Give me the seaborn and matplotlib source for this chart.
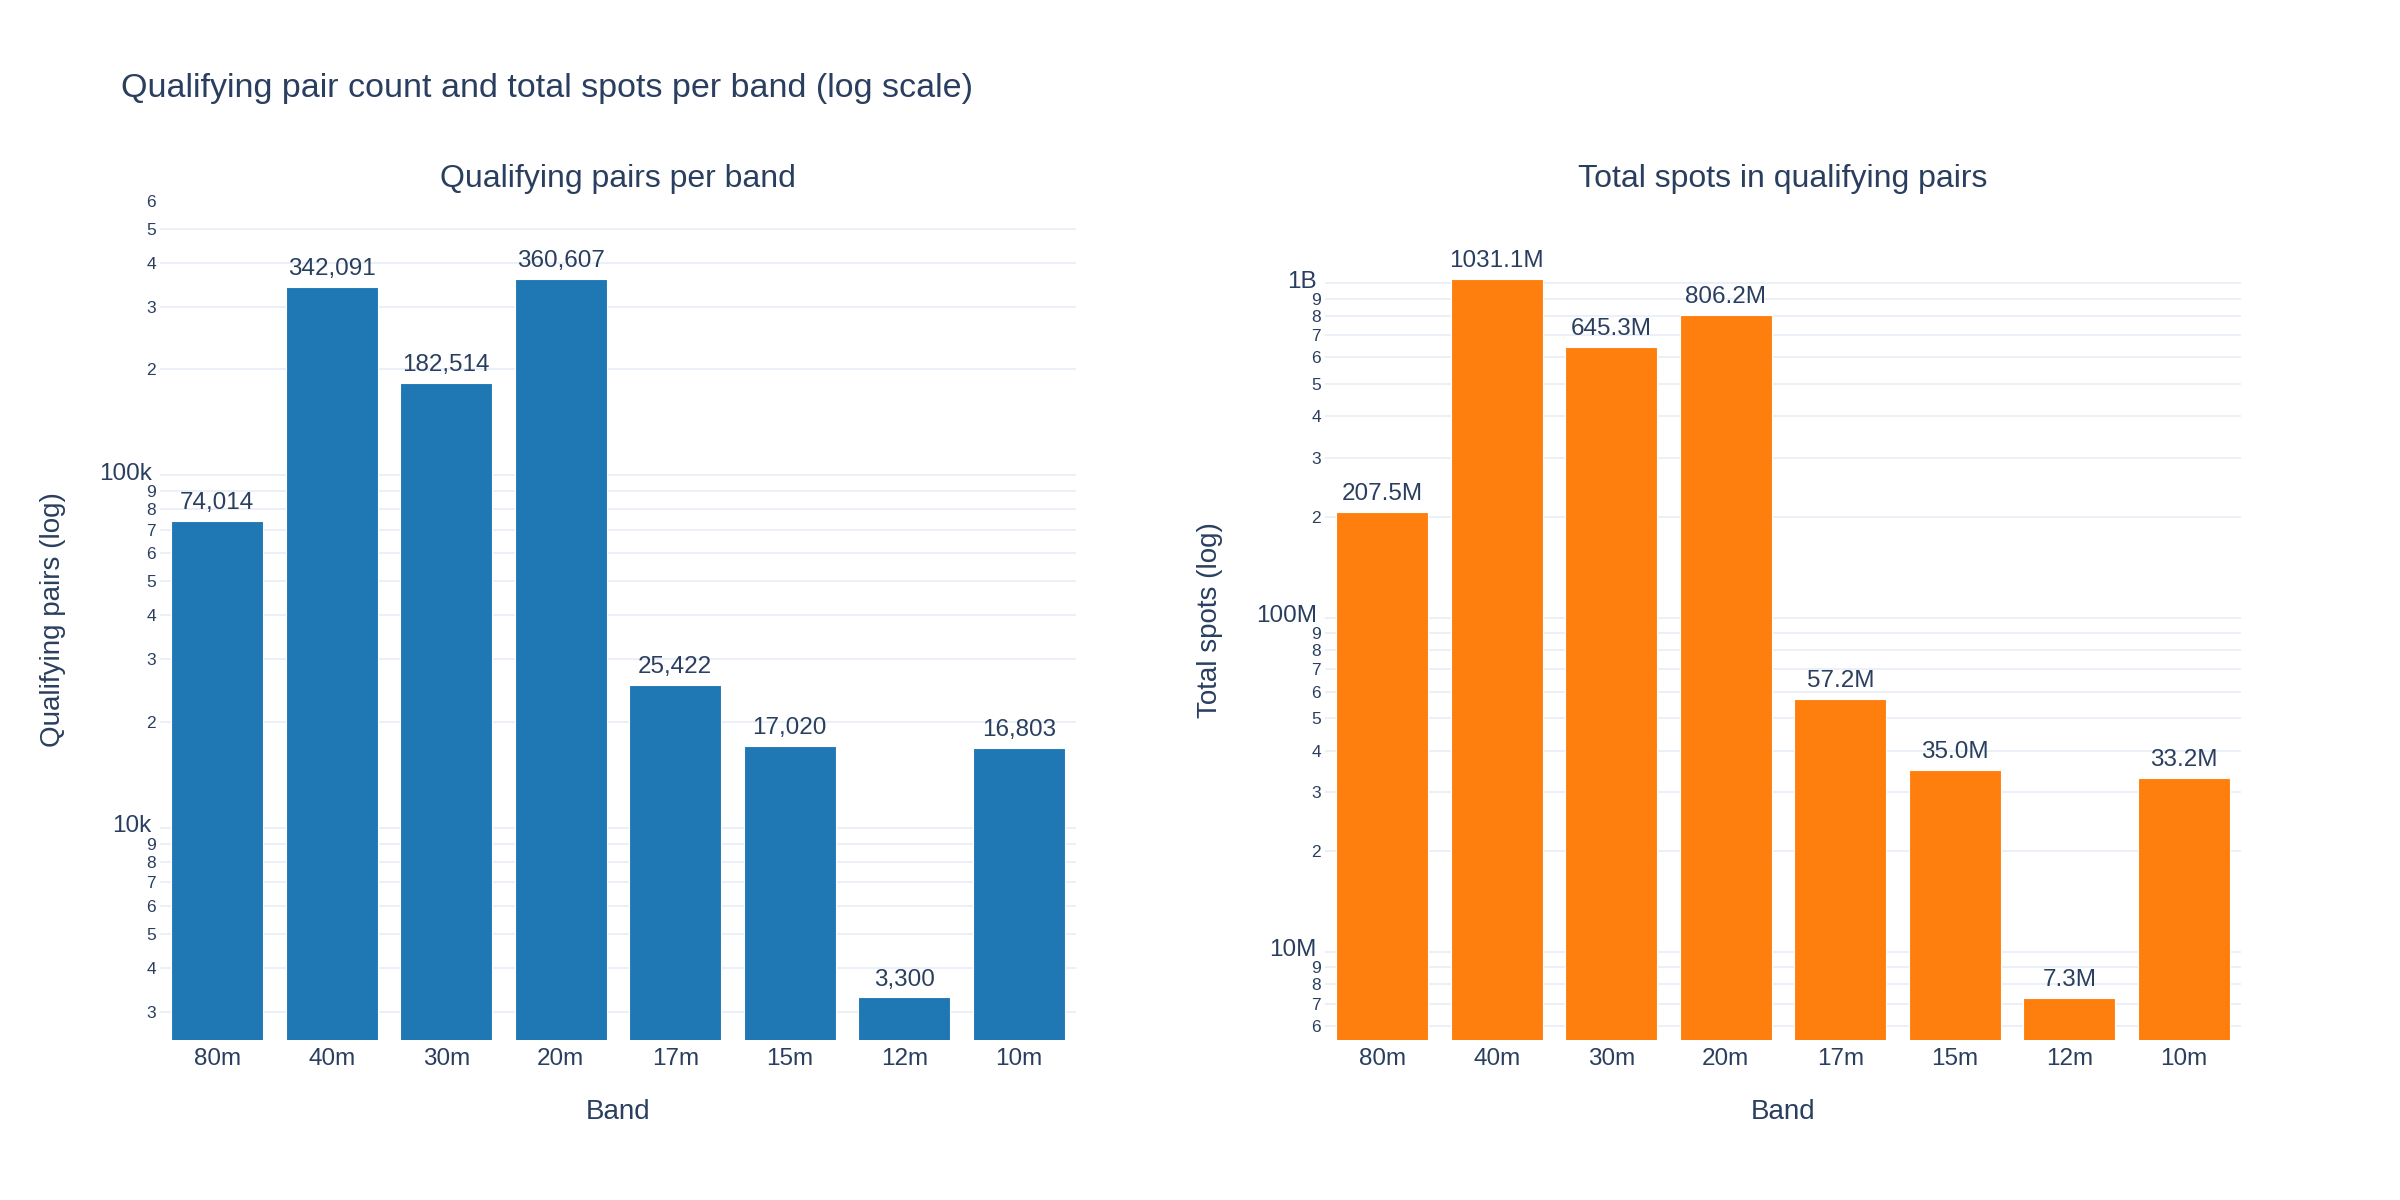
import matplotlib
matplotlib.use("Agg")
import matplotlib.pyplot as plt
import matplotlib.transforms as mtransforms
import seaborn as sns
import numpy as np
import pandas as pd

# ---- data ----
bands = ["80m", "40m", "30m", "20m", "17m", "15m", "12m", "10m"]
pairs = [74014, 342091, 182514, 360607, 25422, 17020, 3300, 16803]
spots_millions = [207.5, 1031.1, 645.3, 806.2, 57.2, 35.0, 7.3, 33.2]

left_ticks = [3e3, 4e3, 5e3, 6e3, 7e3, 8e3, 9e3, 1e4,
              2e4, 3e4, 4e4, 5e4, 6e4, 7e4, 8e4, 9e4, 1e5,
              2e5, 3e5, 4e5, 5e5, 6e5]
left_labels = ["3", "4", "5", "6", "7", "8", "9", "10k",
               "2", "3", "4", "5", "6", "7", "8", "9", "100k",
               "2", "3", "4", "5", "6"]
right_ticks = [6e6, 7e6, 8e6, 9e6, 1e7,
               2e7, 3e7, 4e7, 5e7, 6e7, 7e7, 8e7, 9e7, 1e8,
               2e8, 3e8, 4e8, 5e8, 6e8, 7e8, 8e8, 9e8, 1e9]
right_labels = ["6", "7", "8", "9", "10M",
                "2", "3", "4", "5", "6", "7", "8", "9", "100M",
                "2", "3", "4", "5", "6", "7", "8", "9", "1B"]

TEXT = "#2a3f5f"
GRID = "#ebf0f8"
BLUE = "#1f77b4"
ORANGE = "#ff7f0e"

sns.set_theme(style="white")
plt.rcParams["font.family"] = ["Liberation Sans", "DejaVu Sans"]
plt.rcParams["text.color"] = TEXT
plt.rcParams["axes.labelcolor"] = TEXT
plt.rcParams["xtick.color"] = TEXT
plt.rcParams["ytick.color"] = TEXT

fig = plt.figure(figsize=(24, 12), dpi=100)
fig.patch.set_facecolor("white")

ax1 = fig.add_axes([160 / 2400, 160 / 1200, 916 / 2400, 839.4 / 1200])
ax2 = fig.add_axes([1325 / 2400, 160 / 1200, 916 / 2400, 839.4 / 1200])

df1 = pd.DataFrame({"band": bands, "value": pairs})
df2 = pd.DataFrame({"band": bands, "value": [v * 1e6 for v in spots_millions]})


def style_axis(ax, df, color, ticks, labels, ylim, fmt):
    sns.barplot(data=df, x="band", y="value", color=color, saturation=1,
                width=0.8, errorbar=None, edgecolor="white", linewidth=0.8,
                ax=ax, zorder=3)
    ax.set_yscale("log")
    ax.set_ylim(*ylim)
    ax.set_xlim(-0.5, len(df) - 0.5)
    ax.yaxis.set_major_locator(matplotlib.ticker.FixedLocator(ticks))
    ax.yaxis.set_minor_locator(matplotlib.ticker.NullLocator())
    ax.set_yticklabels(labels)
    ax.grid(axis="y", color=GRID, linewidth=1.4, zorder=0)
    ax.grid(axis="x", visible=False)
    ax.set_axisbelow(True)
    ax.tick_params(axis="y", length=0, pad=3)
    ax.tick_params(axis="x", length=0, pad=6, labelsize=17.5)
    shift = mtransforms.ScaledTranslation(-4 / 100, 4 / 100, fig.dpi_scale_trans)
    for t, lab, v in zip(ax.yaxis.get_major_ticks(), labels, ticks):
        if lab.isdigit():
            t.label1.set_fontsize(12.5)
        else:
            t.label1.set_fontsize(17.5)
            t.label1.set_transform(t.label1.get_transform() + shift)
        if abs(np.log10(v) - np.log10(ylim[1])) < 0.01:
            t.gridline.set_visible(False)
    for s in ax.spines.values():
        s.set_visible(False)
    ax.set_xlabel("")
    ax.set_ylabel("")
    vals = df["value"].tolist()
    for i, v in enumerate(vals):
        ax.annotate(fmt(v), xy=(i, v), xytext=(0, 5), textcoords="offset points",
                    ha="center", va="bottom", fontsize=17.5, color=TEXT)


style_axis(ax1, df1, BLUE, left_ticks, left_labels, (2500, 6.0e5),
           lambda v: f"{int(v):,}")
style_axis(ax2, df2, ORANGE, right_ticks, right_labels, (5.45e6, 1.768e9),
           lambda v: f"{v / 1e6:.1f}M")

# titles
fig.text(121 / 2400, 1 - 89 / 1200,
         "Qualifying pair count and total spots per band (log scale)",
         ha="left", va="center", fontsize=24.5, color=TEXT)
fig.text(618 / 2400, 1 - 179 / 1200, "Qualifying pairs per band",
         ha="center", va="center", fontsize=23, color=TEXT)
fig.text(1783 / 2400, 1 - 179 / 1200, "Total spots in qualifying pairs",
         ha="center", va="center", fontsize=23, color=TEXT)

# axis titles
fig.text(618 / 2400, 1 - 1112 / 1200, "Band", ha="center", va="center",
         fontsize=20, color=TEXT)
fig.text(1783 / 2400, 1 - 1112 / 1200, "Band", ha="center", va="center",
         fontsize=20, color=TEXT)
fig.text(53 / 2400, 1 - 620 / 1200, "Qualifying pairs (log)", ha="center",
         va="center", rotation=90, fontsize=20, color=TEXT)
fig.text(1210 / 2400, 1 - 620 / 1200, "Total spots (log)", ha="center",
         va="center", rotation=90, fontsize=20, color=TEXT)

fig.savefig("out.png", dpi=100, facecolor="white")
